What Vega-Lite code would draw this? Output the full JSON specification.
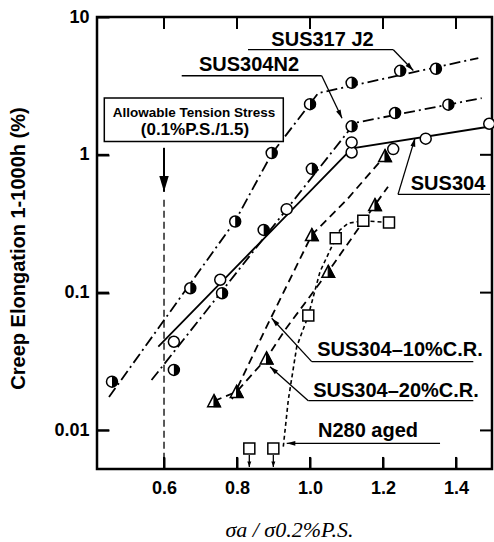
{
  "$schema": "https://vega.github.io/schema/vega-lite/v6.json",
  "width": 395,
  "height": 452,
  "autosize": "none",
  "padding": {"left": 97, "top": 17, "right": 2, "bottom": 73},
  "background": "white",
  "datasets": {
    "pts": [
      {"series": "SUS317J2", "x": 0.4575, "y": 0.0226},
      {"series": "SUS317J2", "x": 0.672, "y": 0.1076},
      {"series": "SUS317J2", "x": 0.795, "y": 0.328},
      {"series": "SUS317J2", "x": 0.895, "y": 1.03},
      {"series": "SUS317J2", "x": 1.0, "y": 2.33},
      {"series": "SUS317J2", "x": 1.114, "y": 3.33},
      {"series": "SUS317J2", "x": 1.247, "y": 4.07},
      {"series": "SUS317J2", "x": 1.345, "y": 4.21},
      {"series": "SUS304N2", "x": 0.627, "y": 0.0275},
      {"series": "SUS304N2", "x": 0.759, "y": 0.099},
      {"series": "SUS304N2", "x": 0.873, "y": 0.285},
      {"series": "SUS304N2", "x": 1.005, "y": 0.791},
      {"series": "SUS304N2", "x": 1.114, "y": 1.61},
      {"series": "SUS304N2", "x": 1.233, "y": 2.01},
      {"series": "SUS304N2", "x": 1.379, "y": 2.31},
      {"series": "SUS304", "x": 0.627, "y": 0.044},
      {"series": "SUS304", "x": 0.754, "y": 0.124},
      {"series": "SUS304", "x": 0.936, "y": 0.403},
      {"series": "SUS304", "x": 1.114, "y": 1.04},
      {"series": "SUS304", "x": 1.114, "y": 1.23},
      {"series": "SUS304", "x": 1.228, "y": 1.10},
      {"series": "SUS304", "x": 1.317, "y": 1.31},
      {"series": "SUS304", "x": 1.491, "y": 1.68},
      {"series": "CR10", "x": 0.799, "y": 0.0191},
      {"series": "CR10", "x": 1.005, "y": 0.2625},
      {"series": "CR10", "x": 1.2055, "y": 0.983},
      {"series": "CR20", "x": 0.737, "y": 0.01634},
      {"series": "CR20", "x": 0.881, "y": 0.0334},
      {"series": "CR20", "x": 1.05, "y": 0.142},
      {"series": "CR20", "x": 1.178, "y": 0.4335},
      {"series": "N280", "x": 0.8337, "y": 0.0074},
      {"series": "N280", "x": 0.8995, "y": 0.0074},
      {"series": "N280", "x": 0.9953, "y": 0.0681},
      {"series": "N280", "x": 1.0704, "y": 0.2483},
      {"series": "N280", "x": 1.146, "y": 0.332},
      {"series": "N280", "x": 1.2164, "y": 0.3224}
    ],
    "lines": [
      {"series": "SUS317J2", "x": 0.4493, "y": 0.01748},
      {"series": "SUS317J2", "x": 0.7953, "y": 0.332},
      {"series": "SUS317J2", "x": 0.8951, "y": 1.017},
      {"series": "SUS317J2", "x": 1.0227, "y": 2.806},
      {"series": "SUS317J2", "x": 1.4611, "y": 5.038},
      {"series": "SUS304N2", "x": 0.5658, "y": 0.0232},
      {"series": "SUS304N2", "x": 1.1233, "y": 1.707},
      {"series": "SUS304N2", "x": 1.4704, "y": 2.58},
      {"series": "SUS304", "x": 0.5844, "y": 0.0405},
      {"series": "SUS304", "x": 1.115, "y": 1.115},
      {"series": "SUS304", "x": 1.4932, "y": 1.605},
      {"series": "CR10", "x": 0.7863, "y": 0.0169},
      {"series": "CR10", "x": 0.8767, "y": 0.0536},
      {"series": "CR10", "x": 1.005, "y": 0.2625},
      {"series": "CR10", "x": 1.1005, "y": 0.471},
      {"series": "CR10", "x": 1.2055, "y": 0.983},
      {"series": "CR20", "x": 0.737, "y": 0.01634},
      {"series": "CR20", "x": 0.799, "y": 0.0191},
      {"series": "CR20", "x": 0.881, "y": 0.0334},
      {"series": "CR20", "x": 0.9315, "y": 0.0536},
      {"series": "CR20", "x": 1.05, "y": 0.142},
      {"series": "CR20", "x": 1.178, "y": 0.4335},
      {"series": "CR20", "x": 1.2137, "y": 0.5857},
      {"series": "N280", "x": 0.9268, "y": 0.00762},
      {"series": "N280", "x": 0.9405, "y": 0.01663},
      {"series": "N280", "x": 0.9636, "y": 0.0405},
      {"series": "N280", "x": 0.9953, "y": 0.0681},
      {"series": "N280", "x": 1.0274, "y": 0.142},
      {"series": "N280", "x": 1.0704, "y": 0.2483},
      {"series": "N280", "x": 1.082, "y": 0.285},
      {"series": "N280", "x": 1.105, "y": 0.319},
      {"series": "N280", "x": 1.146, "y": 0.332},
      {"series": "N280", "x": 1.2164, "y": 0.3224}
    ],
    "leaders": [
      {"x": 0.8301, "y": 5.789, "x2": 1.2282, "y2": 5.789},
      {"x": 1.2282, "y": 5.789, "x2": 1.283, "y2": 4.095},
      {"x": 0.6485, "y": 3.748, "x2": 1.0321, "y2": 3.748},
      {"x": 1.0321, "y": 3.748, "x2": 1.0877, "y2": 1.841},
      {"x": 1.2411, "y": 0.5165, "x2": 1.4932, "y2": 0.5165},
      {"x": 1.2411, "y": 0.5165, "x2": 1.2877, "y2": 1.322},
      {"x": 1.0047, "y": 0.03155, "x2": 1.4474, "y2": 0.03155},
      {"x": 1.0047, "y": 0.03155, "x2": 0.8951, "y2": 0.06518},
      {"x": 0.9953, "y": 0.01643, "x2": 1.4474, "y2": 0.01643},
      {"x": 0.9953, "y": 0.01643, "x2": 0.8904, "y2": 0.02902},
      {"x": 1.3562, "y": 0.008059, "x2": 0.9362, "y2": 0.008059},
      {"x": 0.8337, "y": 0.006628, "x2": 0.8337, "y2": 0.005423},
      {"x": 0.8995, "y": 0.006628, "x2": 0.8995, "y2": 0.005423}
    ],
    "tickSegs": [
      {"x": 0.6, "y": 0.00525, "x2": 0.6, "y2": 0.00642},
      {"x": 0.8, "y": 0.00525, "x2": 0.8, "y2": 0.00642},
      {"x": 1.0, "y": 0.00525, "x2": 1.0, "y2": 0.00642},
      {"x": 1.2, "y": 0.00525, "x2": 1.2, "y2": 0.00642},
      {"x": 1.4, "y": 0.00525, "x2": 1.4, "y2": 0.00642},
      {"x": 0.6, "y": 10, "x2": 0.6, "y2": 8.18},
      {"x": 0.8, "y": 10, "x2": 0.8, "y2": 8.18},
      {"x": 1.0, "y": 10, "x2": 1.0, "y2": 8.18},
      {"x": 1.2, "y": 10, "x2": 1.2, "y2": 8.18},
      {"x": 1.4, "y": 10, "x2": 1.4, "y2": 8.18},
      {"x": 0.4164, "y": 0.01, "x2": 0.4493, "y2": 0.01},
      {"x": 0.4164, "y": 0.1, "x2": 0.4493, "y2": 0.1},
      {"x": 0.4164, "y": 1, "x2": 0.4493, "y2": 1},
      {"x": 1.4986, "y": 0.01, "x2": 1.4657, "y2": 0.01},
      {"x": 1.4986, "y": 0.1, "x2": 1.4657, "y2": 0.1},
      {"x": 1.4986, "y": 1, "x2": 1.4657, "y2": 1}
    ],
    "heads": [
      {"kind": "a317", "x": 1.283, "y": 4.095},
      {"kind": "aN2", "x": 1.0877, "y": 1.841},
      {"kind": "a304", "x": 1.2877, "y": 1.322},
      {"kind": "a10", "x": 0.8951, "y": 0.06518},
      {"kind": "a20", "x": 0.8904, "y": 0.02902},
      {"kind": "aN280", "x": 0.9362, "y": 0.008059},
      {"kind": "down", "x": 0.8337, "y": 0.005423},
      {"kind": "down", "x": 0.8995, "y": 0.005423},
      {"kind": "allow", "x": 0.6, "y": 0.5386}
    ],
    "allowShaft": [{"x": 0.6, "y": 1.124, "x2": 0.6, "y2": 0.5386}],
    "allowLine": [{"x": 0.6, "y": 0.471, "x2": 0.6, "y2": 0.00525}],
    "box": [{"x": 0.4364, "y": 1.249, "x2": 0.9268, "y2": 2.58}],
    "labels": [
      {"label": "SUS317 J2", "x": 1.0342, "y": 6.84},
      {"label": "SUS304N2", "x": 0.8329, "y": 4.504},
      {"label": "SUS304", "x": 1.3781, "y": 0.616},
      {"label": "SUS304–10%C.R.", "x": 1.2466, "y": 0.0384},
      {"label": "SUS304–20%C.R.", "x": 1.2356, "y": 0.0193},
      {"label": "N280  aged", "x": 1.1589, "y": 0.0099}
    ],
    "boxText1": [{"label": "Allowable Tension Stress", "x": 0.6822, "y": 2.018}],
    "boxText2": [{"label": "(0.1%P.S./1.5)", "x": 0.6849, "y": 1.519}]
  },
  "layer": [
    {
      "data": {"name": "lines"},
      "transform": [{"filter": "datum.series === 'SUS317J2' || datum.series === 'SUS304N2'"}],
      "mark": {"type": "line", "color": "black", "strokeWidth": 1.8, "strokeDash": [11, 4, 2, 4]},
      "encoding": {
        "x": {"field": "x", "type": "quantitative", "scale": {"domain": [0.4164, 1.4986], "nice": false, "zero": false},
          "axis": {"orient": "bottom", "offset": -12, "values": [0.6, 0.8, 1.0, 1.2, 1.4], "format": ".1f", "labelPadding": 10,
            "title": "σa / σ0.2%P.S.", "titleFont": "Liberation Serif", "titleFontStyle": "italic", "titleFontWeight": "normal", "titleFontSize": 22,
            "titleX": 192, "titleY": 72, "titleBaseline": "middle", "titleAlign": "center"}},
        "y": {"field": "y", "type": "quantitative", "scale": {"type": "log", "domain": [0.00525, 10], "nice": false},
          "axis": {"orient": "left", "offset": -12, "values": [0.01, 0.1, 1, 10], "format": "~g", "labelPadding": 8,
            "title": "Creep Elongation 1-1000h  (%)", "titleFont": "Liberation Sans", "titleFontWeight": "bold", "titleFontSize": 20,
            "titleX": -91, "titleY": 231, "titleAngle": 270, "titleBaseline": "middle", "titleAlign": "center"}},
        "detail": {"field": "series"}
      }
    },
    {
      "data": {"name": "lines"},
      "transform": [{"filter": "datum.series === 'SUS304'"}],
      "mark": {"type": "line", "color": "black", "strokeWidth": 1.8},
      "encoding": {
        "x": {"field": "x", "type": "quantitative"},
        "y": {"field": "y", "type": "quantitative"}
      }
    },
    {
      "data": {"name": "lines"},
      "transform": [{"filter": "datum.series === 'CR10' || datum.series === 'CR20'"}],
      "mark": {"type": "line", "color": "black", "strokeWidth": 1.8, "strokeDash": [8, 5]},
      "encoding": {
        "x": {"field": "x", "type": "quantitative"},
        "y": {"field": "y", "type": "quantitative"},
        "detail": {"field": "series"}
      }
    },
    {
      "data": {"name": "lines"},
      "transform": [{"filter": "datum.series === 'N280'"}],
      "mark": {"type": "line", "color": "black", "strokeWidth": 1.6, "strokeDash": [4, 3]},
      "encoding": {
        "x": {"field": "x", "type": "quantitative"},
        "y": {"field": "y", "type": "quantitative"}
      }
    },
    {
      "data": {"name": "allowLine"},
      "mark": {"type": "rule", "color": "black", "strokeWidth": 1.3, "strokeDash": [7, 4]},
      "encoding": {
        "x": {"field": "x", "type": "quantitative"},
        "y": {"field": "y", "type": "quantitative"},
        "y2": {"field": "y2"}
      }
    },
    {
      "data": {"name": "tickSegs"},
      "mark": {"type": "rule", "color": "black", "strokeWidth": 2},
      "encoding": {
        "x": {"field": "x", "type": "quantitative"},
        "x2": {"field": "x2"},
        "y": {"field": "y", "type": "quantitative"},
        "y2": {"field": "y2"}
      }
    },
    {
      "data": {"name": "box"},
      "mark": {"type": "rect", "fill": "white", "stroke": "black", "strokeWidth": 1.5},
      "encoding": {
        "x": {"field": "x", "type": "quantitative"},
        "x2": {"field": "x2"},
        "y": {"field": "y", "type": "quantitative"},
        "y2": {"field": "y2"}
      }
    },
    {
      "data": {"name": "leaders"},
      "mark": {"type": "rule", "color": "black", "strokeWidth": 1.3},
      "encoding": {
        "x": {"field": "x", "type": "quantitative"},
        "x2": {"field": "x2"},
        "y": {"field": "y", "type": "quantitative"},
        "y2": {"field": "y2"}
      }
    },
    {
      "data": {"name": "allowShaft"},
      "mark": {"type": "rule", "color": "black", "strokeWidth": 2},
      "encoding": {
        "x": {"field": "x", "type": "quantitative"},
        "y": {"field": "y", "type": "quantitative"},
        "y2": {"field": "y2"}
      }
    },
    {
      "data": {"name": "pts"},
      "transform": [{"filter": "datum.series === 'SUS317J2' || datum.series === 'SUS304N2' || datum.series === 'SUS304'"}],
      "mark": {"type": "point", "shape": "circle", "filled": true, "fill": "white", "stroke": "black", "strokeWidth": 1.5, "size": 121, "opacity": 1},
      "encoding": {
        "x": {"field": "x", "type": "quantitative"},
        "y": {"field": "y", "type": "quantitative"}
      }
    },
    {
      "data": {"name": "pts"},
      "transform": [{"filter": "datum.series === 'SUS317J2' || datum.series === 'SUS304N2'"}],
      "mark": {"type": "point", "shape": "M0,-1A1,1,0,0,1,0,1Z", "filled": true, "fill": "black", "strokeWidth": 0, "size": 121, "opacity": 1},
      "encoding": {
        "x": {"field": "x", "type": "quantitative"},
        "y": {"field": "y", "type": "quantitative"}
      }
    },
    {
      "data": {"name": "pts"},
      "transform": [{"filter": "datum.series === 'CR10' || datum.series === 'CR20'"}],
      "mark": {"type": "point", "shape": "M0,-1L1,0.9L-1,0.9Z", "filled": true, "fill": "white", "stroke": "black", "strokeWidth": 1.5, "size": 160, "opacity": 1},
      "encoding": {
        "x": {"field": "x", "type": "quantitative"},
        "y": {"field": "y", "type": "quantitative"}
      }
    },
    {
      "data": {"name": "pts"},
      "transform": [{"filter": "datum.series === 'CR10' || datum.series === 'CR20'"}],
      "mark": {"type": "point", "shape": "M0,-1L1,0.9L0,0.9Z", "filled": true, "fill": "black", "stroke": "black", "strokeWidth": 1.2, "size": 160, "opacity": 1},
      "encoding": {
        "x": {"field": "x", "type": "quantitative"},
        "y": {"field": "y", "type": "quantitative"}
      }
    },
    {
      "data": {"name": "pts"},
      "transform": [{"filter": "datum.series === 'N280'"}],
      "mark": {"type": "point", "shape": "square", "filled": true, "fill": "white", "stroke": "black", "strokeWidth": 1.5, "size": 121, "opacity": 1},
      "encoding": {
        "x": {"field": "x", "type": "quantitative"},
        "y": {"field": "y", "type": "quantitative"}
      }
    },
    {
      "data": {"name": "heads"},
      "transform": [{"filter": "datum.kind === 'a317'"}],
      "mark": {"type": "point", "shape": "M0,0L-0.4,1.4L0.4,1.4Z", "filled": true, "color": "black", "size": 150, "opacity": 1, "angle": 136},
      "encoding": {"x": {"field": "x", "type": "quantitative"}, "y": {"field": "y", "type": "quantitative"}}
    },
    {
      "data": {"name": "heads"},
      "transform": [{"filter": "datum.kind === 'aN2'"}],
      "mark": {"type": "point", "shape": "M0,0L-0.4,1.4L0.4,1.4Z", "filled": true, "color": "black", "size": 150, "opacity": 1, "angle": 154.7},
      "encoding": {"x": {"field": "x", "type": "quantitative"}, "y": {"field": "y", "type": "quantitative"}}
    },
    {
      "data": {"name": "heads"},
      "transform": [{"filter": "datum.kind === 'a304'"}],
      "mark": {"type": "point", "shape": "M0,0L-0.4,1.4L0.4,1.4Z", "filled": true, "color": "black", "size": 150, "opacity": 1, "angle": 14.4},
      "encoding": {"x": {"field": "x", "type": "quantitative"}, "y": {"field": "y", "type": "quantitative"}}
    },
    {
      "data": {"name": "heads"},
      "transform": [{"filter": "datum.kind === 'a10'"}],
      "mark": {"type": "point", "shape": "M0,0L-0.4,1.4L0.4,1.4Z", "filled": true, "color": "black", "size": 150, "opacity": 1, "angle": 317.3},
      "encoding": {"x": {"field": "x", "type": "quantitative"}, "y": {"field": "y", "type": "quantitative"}}
    },
    {
      "data": {"name": "heads"},
      "transform": [{"filter": "datum.kind === 'a20'"}],
      "mark": {"type": "point", "shape": "M0,0L-0.4,1.4L0.4,1.4Z", "filled": true, "color": "black", "size": 150, "opacity": 1, "angle": 311.6},
      "encoding": {"x": {"field": "x", "type": "quantitative"}, "y": {"field": "y", "type": "quantitative"}}
    },
    {
      "data": {"name": "heads"},
      "transform": [{"filter": "datum.kind === 'aN280'"}],
      "mark": {"type": "point", "shape": "M0,0L-0.4,1.4L0.4,1.4Z", "filled": true, "color": "black", "size": 150, "opacity": 1, "angle": 270},
      "encoding": {"x": {"field": "x", "type": "quantitative"}, "y": {"field": "y", "type": "quantitative"}}
    },
    {
      "data": {"name": "heads"},
      "transform": [{"filter": "datum.kind === 'down'"}],
      "mark": {"type": "point", "shape": "M0,0L-0.5,1.4L0.5,1.4Z", "filled": true, "color": "black", "size": 64, "opacity": 1, "angle": 180},
      "encoding": {"x": {"field": "x", "type": "quantitative"}, "y": {"field": "y", "type": "quantitative"}}
    },
    {
      "data": {"name": "heads"},
      "transform": [{"filter": "datum.kind === 'allow'"}],
      "mark": {"type": "point", "shape": "M0,0L-0.45,1.5L0.45,1.5Z", "filled": true, "color": "black", "size": 440, "opacity": 1, "angle": 180},
      "encoding": {"x": {"field": "x", "type": "quantitative"}, "y": {"field": "y", "type": "quantitative"}}
    },
    {
      "data": {"name": "labels"},
      "mark": {"type": "text", "font": "Liberation Sans", "fontWeight": "bold", "fontSize": 20, "color": "black", "align": "center", "baseline": "middle"},
      "encoding": {
        "x": {"field": "x", "type": "quantitative"},
        "y": {"field": "y", "type": "quantitative"},
        "text": {"field": "label"}
      }
    },
    {
      "data": {"name": "boxText1"},
      "mark": {"type": "text", "font": "Liberation Sans", "fontWeight": "bold", "fontSize": 13.5, "color": "black", "align": "center", "baseline": "middle"},
      "encoding": {
        "x": {"field": "x", "type": "quantitative"},
        "y": {"field": "y", "type": "quantitative"},
        "text": {"field": "label"}
      }
    },
    {
      "data": {"name": "boxText2"},
      "mark": {"type": "text", "font": "Liberation Sans", "fontWeight": "bold", "fontSize": 17, "color": "black", "align": "center", "baseline": "middle"},
      "encoding": {
        "x": {"field": "x", "type": "quantitative"},
        "y": {"field": "y", "type": "quantitative"},
        "text": {"field": "label"}
      }
    }
  ],
  "config": {
    "view": {"stroke": "black", "strokeWidth": 2.5},
    "axis": {"domain": false, "grid": false, "tickColor": "black", "tickWidth": 2, "tickSize": 12,
      "labelColor": "black", "labelFont": "Liberation Sans", "labelFontWeight": "bold", "labelFontSize": 18, "titleColor": "black"}
  }
}
